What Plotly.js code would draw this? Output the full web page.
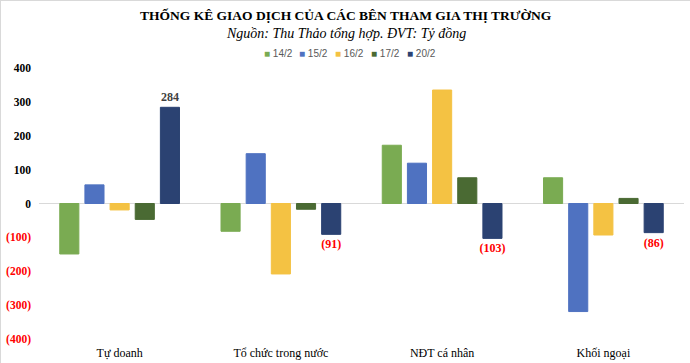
<!DOCTYPE html>
<html>
<head>
<meta charset="utf-8">
<script src="https://cdn.plot.ly/plotly-3.0.1.min.js"></script>
<style>
html,body{margin:0;padding:0;background:#fff;}
#chart{width:690px;height:363px;box-sizing:border-box;border:1px solid #d9d9d9;}
</style>
</head>
<body>
<div id="chart"></div>
<script>
const categories = ["Tự doanh", "Tổ chức trong nước", "NĐT cá nhân", "Khối ngoại"];
const seriesNames = ["14/2", "15/2", "16/2", "17/2", "20/2"];
const v14 = [-149, -82, 172, 76];
const v15 = [55, 147, 119, -319];
const v16 = [-19, -208, 335, -93];
const v17 = [-47, -17, 76, 15];
const v20 = [284, -91, -103, -86];
const colors = ["#7aab52", "#4f72c1", "#f4c243", "#4a6a33", "#2b4272"];
const yTickVals = [400, 300, 200, 100, 0, -100, -200, -300, -400];

const fmt = v => v < 0 ? "(" + Math.abs(v) + ")" : String(v);
const allSeries = [v14, v15, v16, v17, v20];

const traces = allSeries.map((vals, i) => {
  const t = {
    type: "bar",
    name: seriesNames[i],
    x: categories,
    y: vals,
    marker: {color: colors[i], line: {color: colors[i], width: 1}},
    showlegend: false,
    hoverinfo: "x+y"
  };
  if (i === 4) {
    t.text = vals.map(fmt);
    t.textposition = "outside";
    t.constraintext = "none";
    t.cliponaxis = false;
    t.textfont = {family: "Liberation Serif", size: 12, color: vals.map(v => v < 0 ? "#ff0000" : "#404040"), weight: "bold"};
  }
  return t;
});

const tickText = yTickVals.map(v => v < 0
  ? '<span style="color:#ff0000">' + fmt(v) + '</span>'
  : String(v));

const annotations = [
  {text: "<b>THỐNG KÊ GIAO DỊCH CỦA CÁC BÊN THAM GIA THỊ TRƯỜNG</b>", xref: "paper", yref: "paper",
   x: 0.476, y: 1, yanchor: "middle", yshift: 53, showarrow: false,
   font: {family: "Liberation Serif", size: 13.5, color: "#000"}},
  {text: "<i>Nguồn: Thu Thảo tổng hợp. ĐVT: Tỷ đồng</i>", xref: "paper", yref: "paper",
   x: 0.476, y: 1, yanchor: "middle", yshift: 35, showarrow: false,
   font: {family: "Liberation Serif", size: 14, color: "#000"}}
];
const legStart = 0.345, legStep = 0.0555;
seriesNames.forEach((n, i) => {
  annotations.push({text: '<span style="color:' + colors[i] + '">■</span> ' + n,
    xref: "paper", yref: "paper", x: legStart + i * legStep, y: 1, yanchor: "middle", yshift: 15,
    xanchor: "left", showarrow: false,
    font: {family: "Liberation Sans", size: 10, color: "#595959"}});
});

const layout = {
  width: 690, height: 363,
  margin: {l: 38, r: 7, t: 67, b: 25},
  paper_bgcolor: "#fff", plot_bgcolor: "#fff",
  barmode: "group",
  bargap: 0.22,
  bargroupgap: 0.24,
  xaxis: {showgrid: false, showline: false, ticks: "", ticklabelstandoff: 5,
    tickfont: {family: "Liberation Serif", size: 12, color: "#000"}},
  yaxis: {range: [-400, 400], tickvals: yTickVals, ticktext: tickText,
    showgrid: false, zeroline: true, zerolinecolor: "#d9d9d9", zerolinewidth: 1,
    showline: false, ticks: "", ticklabelstandoff: 7,
    tickfont: {family: "Liberation Serif", size: 11.5, color: "#000", weight: "bold"}},
  annotations: annotations
};

Plotly.newPlot("chart", traces, layout, {displayModeBar: false, staticPlot: true});
</script>
</body>
</html>
